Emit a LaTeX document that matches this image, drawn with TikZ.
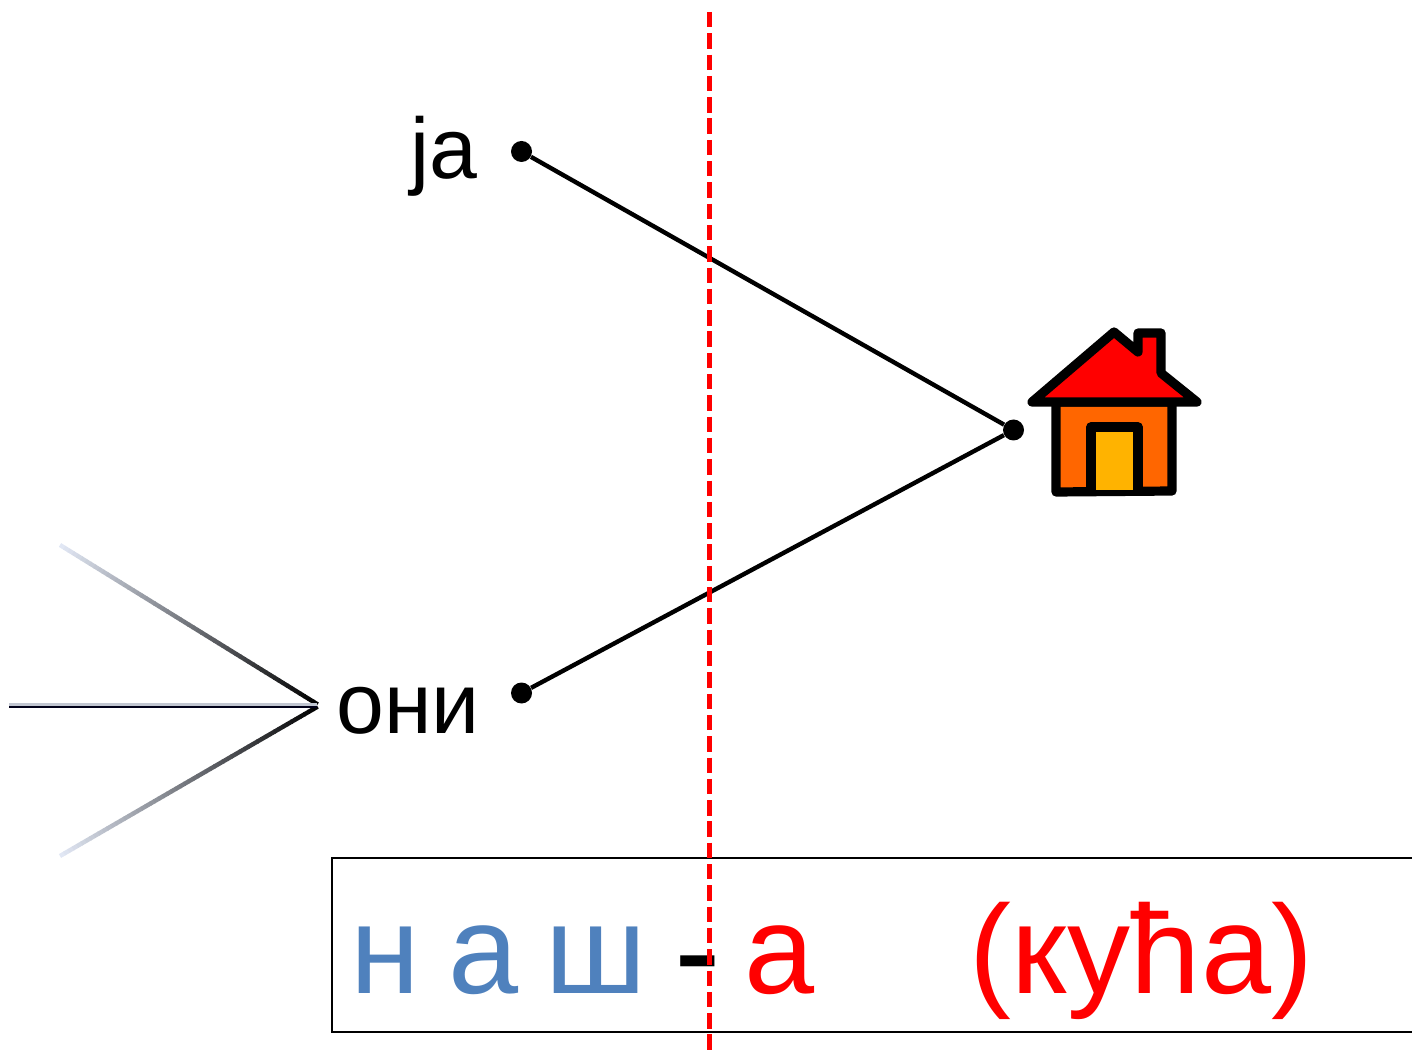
\documentclass[tikz,border=0pt]{standalone}
\usepackage{fontspec}
\usetikzlibrary{calc}
\setmainfont{Liberation Sans}
\definecolor{blueT}{HTML}{4F81BD}
\definecolor{fadeC}{HTML}{E3E9F6}
\definecolor{doorC}{HTML}{FFB300}
\definecolor{wallC}{HTML}{FF6600}
\begin{document}
\begin{tikzpicture}[x=0.5pt,y=-0.5pt,
  dotnode/.style={circle,fill=black,inner sep=0pt,minimum size=10.5pt},
  link/.style={line width=2.2pt,black},
  housepart/.style={draw=black,line width=4.6pt,line join=round,line cap=round},
  small/.style={font=\fontsize{43}{50}\selectfont,inner sep=0pt},
  big/.style={font=\fontsize{63}{72}\selectfont,inner sep=0pt,anchor=base west},
  gradseg/.style={line width=2.2pt,line cap=butt}]
\useasboundingbox (0,0) rectangle (1412,1052);
% labels
\node[small,anchor=base east] (ja) at (478,179) {ја};
\node[small,anchor=base east] (oni) at (480,733) {они};
% dots and links
\node[dotnode] (d1) at (521.5,151.5) {};
\node[dotnode] (d2) at (521.5,693) {};
\node[dotnode] (d3) at (1013.5,430) {};
\draw[link] (d1) -- (d3);
\draw[link] (d2) -- (d3);
% house
\filldraw[housepart,fill=wallC] (1056,402) -- (1056,492) -- (1172,491) -- (1172,402) -- cycle;
\filldraw[housepart,fill=doorC] (1091,490) -- (1091,427) -- (1138,427) -- (1138,490);
\filldraw[housepart,fill=red] (1032,402) -- (1114,332) -- (1138,352) -- (1138,333) -- (1161,333) -- (1161,373) -- (1197,402) -- cycle;
% fading lines
\coordinate (apexA) at (317,704);
\coordinate (apexB) at (317,707);
\coordinate (endA) at (60,545);
\coordinate (endB) at (60,856);
\foreach \i in {0,...,59}{
  \pgfmathsetmacro{\pa}{\i/60}
  \pgfmathsetmacro{\pb}{(\i+1.15)/60}
  \pgfmathsetmacro{\mixv}{100*(1-(\i+0.5)/60)}
  \draw[gradseg,draw=fadeC!\mixv!black] ($(endA)!\pa!(apexA)$) -- ($(endA)!\pb!(apexA)$);
  \draw[gradseg,draw=fadeC!\mixv!black] ($(endB)!\pa!(apexB)$) -- ($(endB)!\pb!(apexB)$);
}
\coordinate (midL) at (9,706);
\coordinate (midR) at (317,706);
\draw[line width=1.2pt,draw=fadeC!85!black] ([yshift=0.75pt]midL) -- ([yshift=0.75pt]midR);
\draw[line width=0.9pt,draw=black!90!blue] ([yshift=-0.5pt]midL) -- ([yshift=-0.5pt]midR);
% box
\node[draw=black,line width=1pt,inner sep=0pt,anchor=north west,minimum width=541pt,minimum height=87pt] (box) at (331,856.5) {};
% words
\node[big,text=blueT] (w1) at (350,993) {н};
\node[big,text=blueT] (w2) at (448,993) {а};
\node[big,text=blueT] (w3) at (545,993) {ш};
\node[big,text=black,font=\fontsize{70}{80}\selectfont] (w4) at (674,998) {-};
\node[big,text=red] (w5) at (744,993) {а};
\node[big,text=red] (w6) at (969,993) {(кућа)};
% red dashed axis
\coordinate (axT) at (709.5,12);
\coordinate (axB) at (709.5,1051);
\draw[red,line width=2.5pt,dash pattern=on 7.7pt off 2.95pt] (axT) -- (axB);
\end{tikzpicture}
\end{document}
